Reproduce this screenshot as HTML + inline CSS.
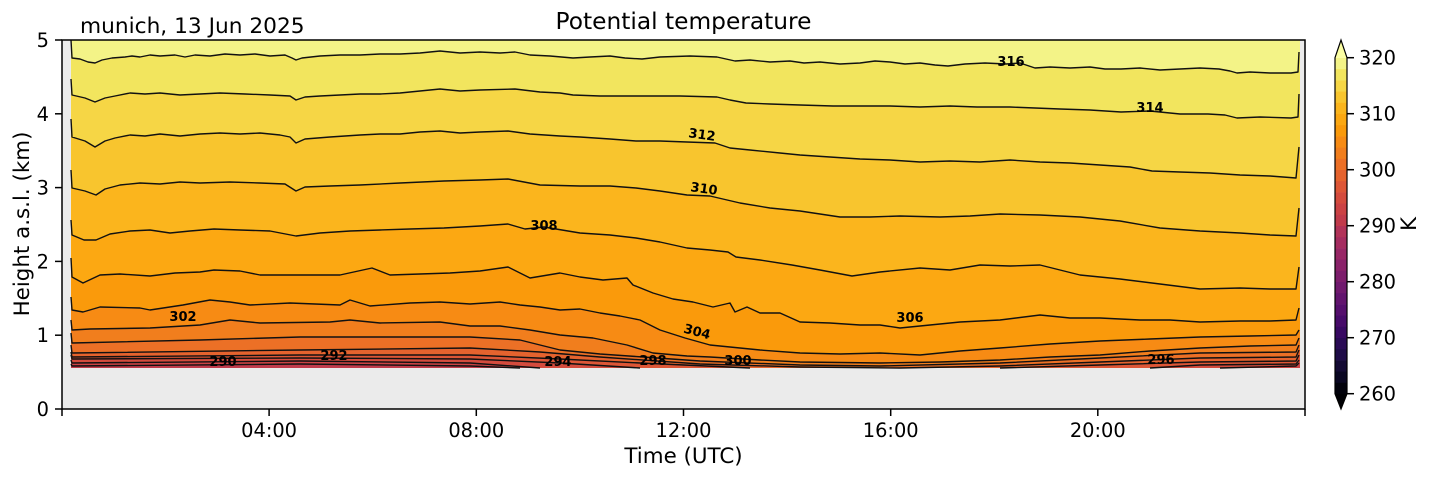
<!DOCTYPE html>
<html><head><meta charset="utf-8">
<style>
html,body{margin:0;padding:0;background:#fff;}
svg{display:block;}
text{font-family:"DejaVu Sans","Liberation Sans",sans-serif;fill:#000;}
.cl{font-weight:bold;font-size:13px;}
</style></head>
<body>
<svg width="1429" height="478" viewBox="0 0 1429 478" xmlns="http://www.w3.org/2000/svg">
<rect x="0" y="0" width="1429" height="478" fill="#fff"/>
<rect x="62" y="40" width="1243" height="369" fill="#ebebeb"/>
<rect x="71" y="40" width="1229" height="328" fill="#f3f387"/>
<g stroke="none">
<polygon fill="#f2e55e" points="71,40 72,58 80,59 88,62 95,63 102,60 112,58 125,57 132,56 140,57 150,55 160,56 175,55 185,57 195,55 210,56 225,54 240,55 255,54 270,56 285,55 292,58 296,60 302,58 320,56 340,55 360,55 380,54 400,54 420,53 440,51 460,53 480,52 500,53 515,52 530,55 550,56 573,58 590,57 610,56 625,58 642,59 660,57 690,56 717,57 735,61 750,60 770,62 790,61 804,63 820,62 840,64 860,63 875,61 890,62 905,64 920,63 935,65 948,66 965,64 985,63 1006,64 1020,63 1035,68 1050,67 1070,68 1090,67 1105,69 1121,69 1140,68 1160,70 1180,69 1200,68 1219,69 1230,71 1237,73 1250,72 1270,73 1291,73 1298,72 1299,52 1300,52 1300,368 71,368"/>
<polygon fill="#f6d645" points="71,79 72,95 85,98 95,102 105,98 115,96 130,93 145,94 160,93 180,95 200,94 220,93 245,94 270,95 290,96 296,100 305,97 320,96 340,95 360,94 380,94 400,93 420,91 440,89 460,91 480,90 515,89 540,92 560,93 573,95 600,96 640,96 680,96 717,97 730,100 746,103 770,104 800,105 833,106 860,106 890,106 920,107 950,106 977,107 1010,107 1035,108 1060,109 1090,110 1121,112 1150,111 1180,114 1208,114 1225,115 1237,118 1260,117 1291,118 1298,117 1299,94 1300,94 1300,368 71,368"/>
<polygon fill="#f8c52e" points="71,119 72,137 85,141 95,147 105,141 115,138 130,135 145,136 160,134 180,136 200,134 220,133 240,134 260,133 280,135 290,137 296,143 305,139 330,137 360,135 380,134 400,134 420,132 440,131 460,133 480,132 508,131 530,134 560,136 580,137 610,139 636,141 660,141 687,142 715,143 730,148 750,150 780,153 800,155 830,157 860,159 890,160 920,162 950,161 980,162 1010,160 1040,162 1070,163 1100,165 1130,167 1152,171 1180,172 1210,173 1240,175 1270,176 1296,178 1299,147 1300,147 1300,368 71,368"/>
<polygon fill="#fbb51d" points="71,170 72,188 85,191 96,195 105,189 120,185 140,183 160,184 180,182 200,183 230,182 260,183 285,184 296,191 305,187 330,186 360,185 400,183 444,181 480,180 508,179 540,185 580,186 610,186 636,188 660,191 687,195 710,196 740,203 770,208 800,211 840,217 870,217 900,216 940,217 970,216 1000,214 1040,215 1080,217 1120,221 1160,228 1200,231 1240,233 1270,235 1296,236 1299,208 1300,208 1300,368 71,368"/>
<polygon fill="#fca812" points="71,220 72,235 84,240 96,240 110,234 130,231 150,230 170,233 190,231 214,229 240,230 270,231 296,236 320,233 350,231 380,230 410,229 444,228 480,226 508,224 525,229 544,227 580,233 610,235 636,238 660,242 687,248 710,250 728,252 736,257 760,260 792,265 820,270 852,276 880,272 920,268 950,270 980,265 1010,266 1040,265 1060,270 1080,275 1120,279 1160,284 1200,289 1240,288 1270,289 1296,289 1299,267 1300,267 1300,368 71,368"/>
<polygon fill="#fa9a0b" points="71,258 72,277 83,283 100,275 120,274 150,276 175,273 200,272 214,270 240,271 260,275 300,275 340,275 372,268 390,275 420,274 450,273 480,271 508,267 530,278 560,273 580,277 603,280 627,278 633,285 653,293 673,299 693,302 713,307 730,303 735,312 747,307 760,313 780,313 800,322 830,323 860,325 880,325 900,328 930,325 960,322 1000,320 1040,315 1070,318 1100,318 1140,320 1170,320 1200,322 1240,321 1270,321 1296,320 1299,308 1300,308 1300,368 71,368"/>
<polygon fill="#f78b14" points="71,297 72,310 83,312 100,307 140,308 150,310 183,305 210,300 230,302 250,305 290,303 340,305 350,300 370,306 410,303 440,302 470,304 500,302 520,305 540,307 560,310 580,309 600,313 620,316 640,320 660,330 685,338 710,345 740,348 760,350 800,353 840,354 880,353 920,355 960,351 1000,348 1050,344 1100,341 1150,339 1200,337 1250,336 1296,335 1299,330 1300,330 1300,368 71,368"/>
<polygon fill="#f17e1d" points="71,320 72,330 90,329 150,328 200,325 230,320 260,323 330,322 350,320 380,323 440,322 470,326 500,326 530,330 560,335 593,338 627,345 653,353 687,356 710,357 760,360 800,362 880,363 940,362 1000,360 1050,357 1100,355 1150,351 1200,348 1250,346 1296,345 1299,338 1300,338 1300,368 71,368"/>
<polygon fill="#ec7026" points="71,333 72,343 200,340 300,337 470,337 520,340 560,350 600,354 643,357 700,361 800,365 880,366 1000,363 1100,358 1200,353 1296,352 1299,345 1300,345 1300,368 71,368"/>
<polygon fill="#e5632e" points="71,345 72,353 300,350 470,348 540,352 600,357 700,364 800,367 900,368 1000,366 1100,362 1200,358 1296,357 1299,350 1300,350 1300,368 71,368"/>
<polygon fill="#dd5636" points="71,352 72,357 300,355 470,355 560,359 640,363 750,368 1000,368 1100,365 1200,362 1296,361 1299,355 1300,355 1300,368 71,368"/>
<polygon fill="#d44b3d" points="71,355 72,359 300,358 470,359 560,363 640,368 1150,368 1200,365 1296,364 1299,360 1300,360 1300,368 71,368"/>
<polygon fill="#cb4244" points="71,360 72,363 300,361 470,363 540,368 1220,368 1296,366 1299,363 1300,363 1300,368 71,368"/>
<polygon fill="#c13b4b" points="71,364 72,366 300,364 470,366 520,368 71,368"/>
</g>
<g fill="none" stroke="#111" stroke-width="1.4" stroke-linejoin="round">
<polyline points="71,40 72,58 80,59 88,62 95,63 102,60 112,58 125,57 132,56 140,57 150,55 160,56 175,55 185,57 195,55 210,56 225,54 240,55 255,54 270,56 285,55 292,58 296,60 302,58 320,56 340,55 360,55 380,54 400,54 420,53 440,51 460,53 480,52 500,53 515,52 530,55 550,56 573,58 590,57 610,56 625,58 642,59 660,57 690,56 717,57 735,61 750,60 770,62 790,61 804,63 820,62 840,64 860,63 875,61 890,62 905,64 920,63 935,65 948,66 965,64 985,63 1006,64 1020,63 1035,68 1050,67 1070,68 1090,67 1105,69 1121,69 1140,68 1160,70 1180,69 1200,68 1219,69 1230,71 1237,73 1250,72 1270,73 1291,73 1298,72 1299,52"/>
<polyline points="71,79 72,95 85,98 95,102 105,98 115,96 130,93 145,94 160,93 180,95 200,94 220,93 245,94 270,95 290,96 296,100 305,97 320,96 340,95 360,94 380,94 400,93 420,91 440,89 460,91 480,90 515,89 540,92 560,93 573,95 600,96 640,96 680,96 717,97 730,100 746,103 770,104 800,105 833,106 860,106 890,106 920,107 950,106 977,107 1010,107 1035,108 1060,109 1090,110 1121,112 1150,111 1180,114 1208,114 1225,115 1237,118 1260,117 1291,118 1298,117 1299,94"/>
<polyline points="71,119 72,137 85,141 95,147 105,141 115,138 130,135 145,136 160,134 180,136 200,134 220,133 240,134 260,133 280,135 290,137 296,143 305,139 330,137 360,135 380,134 400,134 420,132 440,131 460,133 480,132 508,131 530,134 560,136 580,137 610,139 636,141 660,141 687,142 715,143 730,148 750,150 780,153 800,155 830,157 860,159 890,160 920,162 950,161 980,162 1010,160 1040,162 1070,163 1100,165 1130,167 1152,171 1180,172 1210,173 1240,175 1270,176 1296,178 1299,147"/>
<polyline points="71,170 72,188 85,191 96,195 105,189 120,185 140,183 160,184 180,182 200,183 230,182 260,183 285,184 296,191 305,187 330,186 360,185 400,183 444,181 480,180 508,179 540,185 580,186 610,186 636,188 660,191 687,195 710,196 740,203 770,208 800,211 840,217 870,217 900,216 940,217 970,216 1000,214 1040,215 1080,217 1120,221 1160,228 1200,231 1240,233 1270,235 1296,236 1299,208"/>
<polyline points="71,220 72,235 84,240 96,240 110,234 130,231 150,230 170,233 190,231 214,229 240,230 270,231 296,236 320,233 350,231 380,230 410,229 444,228 480,226 508,224 525,229 544,227 580,233 610,235 636,238 660,242 687,248 710,250 728,252 736,257 760,260 792,265 820,270 852,276 880,272 920,268 950,270 980,265 1010,266 1040,265 1060,270 1080,275 1120,279 1160,284 1200,289 1240,288 1270,289 1296,289 1299,267"/>
<polyline points="71,258 72,277 83,283 100,275 120,274 150,276 175,273 200,272 214,270 240,271 260,275 300,275 340,275 372,268 390,275 420,274 450,273 480,271 508,267 530,278 560,273 580,277 603,280 627,278 633,285 653,293 673,299 693,302 713,307 730,303 735,312 747,307 760,313 780,313 800,322 830,323 860,325 880,325 900,328 930,325 960,322 1000,320 1040,315 1070,318 1100,318 1140,320 1170,320 1200,322 1240,321 1270,321 1296,320 1299,308"/>
<polyline points="71,297 72,310 83,312 100,307 140,308 150,310 183,305 210,300 230,302 250,305 290,303 340,305 350,300 370,306 410,303 440,302 470,304 500,302 520,305 540,307 560,310 580,309 600,313 620,316 640,320 660,330 685,338 710,345 740,348 760,350 800,353 840,354 880,353 920,355 960,351 1000,348 1050,344 1100,341 1150,339 1200,337 1250,336 1296,335 1299,330"/>
<polyline points="71,320 72,330 90,329 150,328 200,325 230,320 260,323 330,322 350,320 380,323 440,322 470,326 500,326 530,330 560,335 593,338 627,345 653,353 687,356 710,357 760,360 800,362 880,363 940,362 1000,360 1050,357 1100,355 1150,351 1200,348 1250,346 1296,345 1299,338"/>
<polyline points="71,333 72,343 200,340 300,337 470,337 520,340 560,350 600,354 643,357 700,361 800,365 880,366 1000,363 1100,358 1200,353 1296,352 1299,345"/>
<polyline points="71,345 72,353 300,350 470,348 540,352 600,357 700,364 800,367 900,368 1000,366 1100,362 1200,358 1296,357 1299,350"/>
<polyline points="71,352 72,357 300,355 470,355 560,359 640,363 750,368"/>
<polyline points="1000,368 1100,365 1200,362 1296,361 1299,355"/>
<polyline points="71,355 72,359 300,358 470,359 560,363 640,368"/>
<polyline points="1150,368 1200,365 1296,364 1299,360"/>
<polyline points="71,360 72,363 300,361 470,363 540,368"/>
<polyline points="1220,368 1296,366 1299,363"/>
<polyline points="71,364 72,366 300,364 470,366 520,368"/>
</g>
<g class="cl" text-anchor="middle">
<text class="cl" x="1011" y="66">316</text>
<text class="cl" x="1150" y="112">314</text>
<text class="cl" x="702" y="139" transform="rotate(8 702 135)">312</text>
<text class="cl" x="704" y="193" transform="rotate(8 704 189)">310</text>
<text class="cl" x="544" y="230">308</text>
<text class="cl" x="910" y="322">306</text>
<text class="cl" x="697" y="336" transform="rotate(15 697 332)">304</text>
<text class="cl" x="183" y="321">302</text>
<text class="cl" x="738" y="365">300</text>
<text class="cl" x="653" y="365">298</text>
<text class="cl" x="1161" y="364">296</text>
<text class="cl" x="558" y="366">294</text>
<text class="cl" x="334" y="360">292</text>
<text class="cl" x="223" y="366">290</text>
</g>
<rect x="62" y="40" width="1243" height="369" fill="none" stroke="#000" stroke-width="1.5"/>
<g stroke="#000" stroke-width="1.5">
<line x1="55" y1="40" x2="62" y2="40"/>
<line x1="55" y1="113.8" x2="62" y2="113.8"/>
<line x1="55" y1="187.6" x2="62" y2="187.6"/>
<line x1="55" y1="261.4" x2="62" y2="261.4"/>
<line x1="55" y1="335.2" x2="62" y2="335.2"/>
<line x1="55" y1="409" x2="62" y2="409"/>
<line x1="62" y1="409" x2="62" y2="416"/>
<line x1="269.1" y1="409" x2="269.1" y2="416"/>
<line x1="476.3" y1="409" x2="476.3" y2="416"/>
<line x1="683.5" y1="409" x2="683.5" y2="416"/>
<line x1="890.7" y1="409" x2="890.7" y2="416"/>
<line x1="1097.8" y1="409" x2="1097.8" y2="416"/>
<line x1="1305" y1="409" x2="1305" y2="416"/>
</g>
<g font-size="19.4" text-anchor="end">
<text x="49" y="47">5</text>
<text x="49" y="120.8">4</text>
<text x="49" y="194.6">3</text>
<text x="49" y="268.4">2</text>
<text x="49" y="342.2">1</text>
<text x="49" y="416">0</text>
</g>
<g font-size="19.4" text-anchor="middle">
<text x="269.1" y="437">04:00</text>
<text x="476.3" y="437">08:00</text>
<text x="683.5" y="437">12:00</text>
<text x="890.7" y="437">16:00</text>
<text x="1097.8" y="437">20:00</text>
</g>
<text x="683.5" y="463" font-size="21.4" text-anchor="middle">Time (UTC)</text>
<text x="0" y="0" font-size="21.4" text-anchor="middle" transform="translate(29 224) rotate(-90)">Height a.s.l. (km)</text>
<text x="683.5" y="29" font-size="23.3" text-anchor="middle">Potential temperature</text>
<text x="80" y="33" font-size="21.7">munich, 13 Jun 2025</text>
<g stroke="none">
<rect x="1335" y="382.5" width="12" height="11.5" fill="#02020c"/>
<rect x="1335" y="371.3" width="12" height="11.5" fill="#0a0722"/>
<rect x="1335" y="360.1" width="12" height="11.5" fill="#140b34"/>
<rect x="1335" y="348.9" width="12" height="11.5" fill="#1f0c48"/>
<rect x="1335" y="337.7" width="12" height="11.5" fill="#2a0b55"/>
<rect x="1335" y="326.5" width="12" height="11.5" fill="#380962"/>
<rect x="1335" y="315.3" width="12" height="11.5" fill="#470b6a"/>
<rect x="1335" y="304.1" width="12" height="11.5" fill="#550f6d"/>
<rect x="1335" y="292.9" width="12" height="11.5" fill="#62146e"/>
<rect x="1335" y="281.7" width="12" height="11.5" fill="#70196e"/>
<rect x="1335" y="270.5" width="12" height="11.5" fill="#7d1d6c"/>
<rect x="1335" y="259.3" width="12" height="11.5" fill="#8a226a"/>
<rect x="1335" y="248.1" width="12" height="11.5" fill="#982766"/>
<rect x="1335" y="236.9" width="12" height="11.5" fill="#a52c60"/>
<rect x="1335" y="225.7" width="12" height="11.5" fill="#b23359"/>
<rect x="1335" y="214.5" width="12" height="11.5" fill="#c13b4b"/>
<rect x="1335" y="203.3" width="12" height="11.5" fill="#cb4244"/>
<rect x="1335" y="192.1" width="12" height="11.5" fill="#d44b3d"/>
<rect x="1335" y="180.9" width="12" height="11.5" fill="#dd5636"/>
<rect x="1335" y="169.7" width="12" height="11.5" fill="#e5632e"/>
<rect x="1335" y="158.5" width="12" height="11.5" fill="#ec7026"/>
<rect x="1335" y="147.3" width="12" height="11.5" fill="#f17e1d"/>
<rect x="1335" y="136.1" width="12" height="11.5" fill="#f78b14"/>
<rect x="1335" y="124.9" width="12" height="11.5" fill="#fa9a0b"/>
<rect x="1335" y="113.7" width="12" height="11.5" fill="#fca812"/>
<rect x="1335" y="102.5" width="12" height="11.5" fill="#fbb51d"/>
<rect x="1335" y="91.3" width="12" height="11.5" fill="#f8c52e"/>
<rect x="1335" y="80.1" width="12" height="11.5" fill="#f6d645"/>
<rect x="1335" y="68.9" width="12" height="11.5" fill="#f2e55e"/>
<rect x="1335" y="57.7" width="12" height="11.5" fill="#f3f387"/>
<polygon points="1335,57.7 1341,40 1347,57.7" fill="#fbfea3"/>
<polygon points="1335,393.7 1341,409 1347,393.7" fill="#000004"/>
</g>
<polygon points="1335,57.7 1341,40 1347,57.7 1347,393.7 1341,409 1335,393.7" fill="none" stroke="#000" stroke-width="1.2"/>
<g stroke="#000" stroke-width="1.5">
<line x1="1347" y1="57.7" x2="1354" y2="57.7"/>
<line x1="1347" y1="113.7" x2="1354" y2="113.7"/>
<line x1="1347" y1="169.7" x2="1354" y2="169.7"/>
<line x1="1347" y1="225.7" x2="1354" y2="225.7"/>
<line x1="1347" y1="281.7" x2="1354" y2="281.7"/>
<line x1="1347" y1="337.7" x2="1354" y2="337.7"/>
<line x1="1347" y1="393.7" x2="1354" y2="393.7"/>
</g>
<g font-size="19.4">
<text x="1359" y="64.7">320</text>
<text x="1359" y="120.7">310</text>
<text x="1359" y="176.7">300</text>
<text x="1359" y="232.7">290</text>
<text x="1359" y="288.7">280</text>
<text x="1359" y="344.7">270</text>
<text x="1359" y="400.7">260</text>
</g>
<text x="0" y="0" font-size="21.4" text-anchor="middle" transform="translate(1416 224) rotate(-90)">K</text>
</svg>
</body></html>
